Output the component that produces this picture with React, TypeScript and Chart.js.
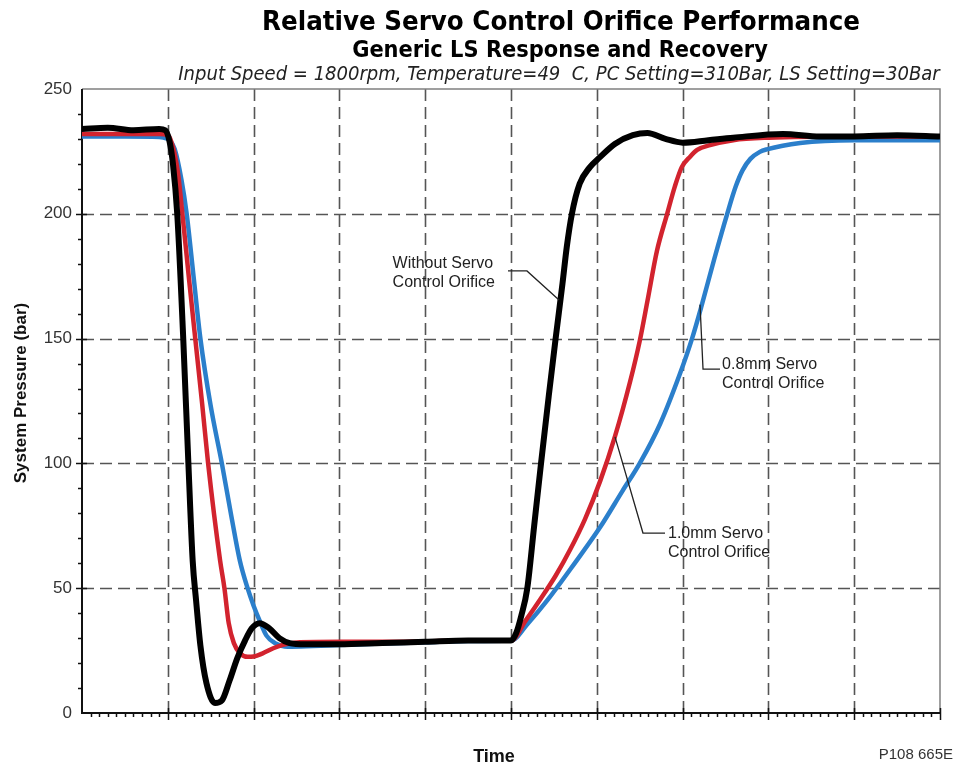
import React, { useEffect, useRef } from "react";
import { Chart, registerables } from "chart.js";

Chart.register(...registerables);

// ---------- data (time in grid divisions, pressure in bar) ----------
const blackTime = [0, 0.3, 0.6, 0.9, 0.97, 1.02, 1.06, 1.11, 1.18, 1.24, 1.29, 1.33, 1.38, 1.45, 1.55, 1.63, 1.72, 1.81, 1.9, 1.98, 2.07, 2.18, 2.3, 2.42, 2.6, 3.0, 3.5, 4.0, 4.5, 5.0, 5.06, 5.12, 5.19, 5.27, 5.35, 5.44, 5.52, 5.6, 5.65, 5.71, 5.8, 5.92, 6.04, 6.21, 6.42, 6.59, 6.8, 7.0, 7.3, 7.59, 8.17, 8.6, 9.0, 9.5, 10];
const blackPressure = [234, 234.5, 233.5, 234, 233.5, 229, 220, 200, 150, 100, 61, 45, 27, 12, 4, 5, 13, 22, 29, 34, 36, 34, 30, 28, 27.5, 27.5, 28, 28.5, 29, 29, 32, 39, 50, 75, 100, 127, 150, 172, 186.7, 200, 212, 218.7, 222.8, 228, 231.5, 232.4, 230, 228.5, 229.5, 230.5, 232, 231, 231, 231.5, 231];

const redTime = [0, 0.5, 0.9, 1.0, 1.04, 1.08, 1.12, 1.17, 1.25, 1.32, 1.4, 1.47, 1.61, 1.66, 1.71, 1.77, 1.84, 1.93, 2.0, 2.1, 2.27, 2.54, 3.0, 3.5, 4.0, 4.5, 5.0, 5.17, 5.34, 5.52, 5.69, 5.86, 6.04, 6.21, 6.39, 6.5, 6.59, 6.7, 6.82, 6.91, 6.99, 7.09, 7.17, 7.32, 7.59, 8.0, 9.0, 10];
const redPressure = [232, 232, 232, 231.5, 229, 224, 216, 200, 173, 150, 124, 100, 61, 50, 36, 28, 24, 22.5, 22.6, 23.8, 26.5, 28.3, 28.5, 28.5, 28.7, 29, 29, 37, 45.5, 55, 65.5, 77.5, 93, 110.6, 133, 149, 165, 185, 200, 211, 218.7, 223, 225.6, 227.5, 229.5, 230.5, 231, 231];

const blueTime = [0, 0.5, 0.9, 0.95, 1.02, 1.08, 1.16, 1.22, 1.3, 1.38, 1.5, 1.63, 1.74, 1.84, 1.93, 2.0, 2.07, 2.15, 2.25, 2.4, 2.7, 3.0, 3.5, 4.0, 4.5, 5.0, 5.2, 5.42, 5.7, 6.04, 6.3, 6.5, 6.74, 6.97, 7.11, 7.22, 7.37, 7.52, 7.62, 7.7, 7.79, 7.9, 7.98, 8.37, 9.0, 10];
const bluePressure = [231, 231, 230.8, 230.5, 229.5, 226, 213.5, 200, 175, 150, 123, 100, 79, 61, 50, 43, 37, 31, 28, 26.5, 26.8, 27.2, 27.8, 28.3, 28.8, 29, 36, 45, 58, 74.5, 89, 100, 116, 136, 150, 163, 182, 200, 211, 217.5, 222, 224.8, 225.8, 228.4, 229.5, 229.5];

const yTickValues = [0, 50, 100, 150, 200, 250];
const xGridValues = [1, 2, 3, 4, 5, 6, 7, 8, 9];
const yGridValues = [50, 100, 150, 200];

const titleText = "Relative Servo Control Orifice Performance";
const subtitleText = "Generic LS Response and Recovery";
const conditionsText = "Input Speed = 1800rpm, Temperature=49  C, PC Setting=310Bar, LS Setting=30Bar";
const yAxisTitle = "System Pressure (bar)";
const xAxisTitle = "Time";
const figureCode = "P108 665E";

const labelWithout = ["Without Servo", "Control Orifice"];
const labelWithoutAnchor = [3.62, 178.3];
const leaderWithout = [[4.965, 177.1], [5.186, 177.1], [5.56, 165.5]];

const label08 = ["0.8mm Servo", "Control Orifice"];
const label08Anchor = [7.46, 137.8];
const leader08 = [[7.203, 163.6], [7.238, 137.8], [7.436, 137.8]];

const label10 = ["1.0mm Servo", "Control Orifice"];
const label10Anchor = [6.83, 70.1];
const leader10 = [[6.212, 110.6], [6.538, 72.1], [6.795, 72.1]];

const annotations = [
  { lines: labelWithout, anchor: labelWithoutAnchor, leader: leaderWithout },
  { lines: label08, anchor: label08Anchor, leader: leader08 },
  { lines: label10, anchor: label10Anchor, leader: leader10 },
];

const toPoints = (t: number[], p: number[]) => t.map((x, i) => ({ x, y: p[i] }));

function fitText(ctx: CanvasRenderingContext2D, text: string, width: number, spec: string, family: string) {
  ctx.font = `${spec} 20px ${family}`;
  const w = ctx.measureText(text).width;
  const size = (20 * width) / w;
  ctx.font = `${spec} ${size}px ${family}`;
}

const decorPlugin = {
  id: "decor",
  beforeDatasetsDraw(chart: any) {
    const { ctx, chartArea: a, scales } = chart;
    const x = scales.x;
    const y = scales.y;
    ctx.save();
    ctx.strokeStyle = "#555";
    ctx.lineWidth = 1.6;
    ctx.setLineDash([12, 6]);
    for (const v of xGridValues) {
      const px = Math.round(x.getPixelForValue(v)) + 0.5;
      ctx.beginPath();
      ctx.moveTo(px, a.top);
      ctx.lineTo(px, a.bottom);
      ctx.stroke();
    }
    for (const v of yGridValues) {
      const py = Math.round(y.getPixelForValue(v)) + 0.5;
      ctx.beginPath();
      ctx.moveTo(a.left, py);
      ctx.lineTo(a.right, py);
      ctx.stroke();
    }
    ctx.setLineDash([]);
    ctx.strokeStyle = "#808080";
    ctx.lineWidth = 1.5;
    ctx.beginPath();
    ctx.moveTo(a.left, a.top);
    ctx.lineTo(a.right, a.top);
    ctx.lineTo(a.right, a.bottom);
    ctx.stroke();
    ctx.strokeStyle = "#111";
    ctx.lineWidth = 2;
    ctx.beginPath();
    ctx.moveTo(a.left, a.top);
    ctx.lineTo(a.left, a.bottom);
    ctx.lineTo(a.right, a.bottom);
    ctx.stroke();
    ctx.lineWidth = 1.5;
    for (let i = 1; i < 25; i++) {
      const v = i * 10;
      const py = Math.round(y.getPixelForValue(v)) + 0.5;
      const major = v % 50 === 0;
      ctx.beginPath();
      ctx.moveTo(a.left - (major ? 6 : 4), py);
      ctx.lineTo(a.left + (major ? 5 : 0), py);
      ctx.stroke();
    }
    for (let i = 1; i <= 100; i++) {
      const v = i / 10;
      const px = Math.round(x.getPixelForValue(v)) + 0.5;
      const major = i % 10 === 0;
      ctx.beginPath();
      ctx.moveTo(px, a.bottom - (major ? 5 : 0));
      ctx.lineTo(px, a.bottom + (major ? 7 : 4));
      ctx.stroke();
    }
    ctx.restore();
  },
  afterDraw(chart: any) {
    const { ctx, scales } = chart;
    const x = scales.x;
    const y = scales.y;
    ctx.save();
    ctx.fillStyle = "#000";
    ctx.textAlign = "center";
    ctx.textBaseline = "alphabetic";
    fitText(ctx, titleText, 598, "bold", "'DejaVu Sans Condensed', 'DejaVu Sans'");
    ctx.fillText(titleText, 561, 30);
    fitText(ctx, subtitleText, 416, "bold", "'DejaVu Sans Condensed', 'DejaVu Sans'");
    ctx.fillText(subtitleText, 560, 57);
    ctx.fillStyle = "#222";
    fitText(ctx, conditionsText, 762, "italic", "'DejaVu Sans Condensed', 'DejaVu Sans'");
    ctx.fillText(conditionsText, 559, 80);

    ctx.fillStyle = "#111";
    ctx.font = "bold 18px 'Liberation Sans', Arial, sans-serif";
    ctx.fillText(xAxisTitle, 494, 762);
    ctx.save();
    ctx.translate(26, 393);
    ctx.rotate(-Math.PI / 2);
    ctx.font = "bold 17px 'Liberation Sans', Arial, sans-serif";
    ctx.fillText(yAxisTitle, 0, 0);
    ctx.restore();

    ctx.fillStyle = "#333";
    ctx.textAlign = "right";
    ctx.font = "15px 'Liberation Sans Narrow', 'Liberation Sans', sans-serif";
    ctx.fillText(figureCode, 953, 759);

    ctx.textAlign = "left";
    ctx.fillStyle = "#222";
    ctx.font = "16px 'Liberation Sans', Arial, sans-serif";
    ctx.strokeStyle = "#222";
    ctx.lineWidth = 1.3;
    for (const ann of annotations) {
      const ax = x.getPixelForValue(ann.anchor[0]);
      const ay = y.getPixelForValue(ann.anchor[1]);
      ann.lines.forEach((line, i) => ctx.fillText(line, ax, ay + i * 19));
      ctx.beginPath();
      ann.leader.forEach((pt, i) => {
        const px = x.getPixelForValue(pt[0]);
        const py = y.getPixelForValue(pt[1]);
        if (i === 0) ctx.moveTo(px, py);
        else ctx.lineTo(px, py);
      });
      ctx.stroke();
    }
    ctx.restore();
  },
};

export default function App() {
  const canvasRef = useRef<HTMLCanvasElement | null>(null);
  useEffect(() => {
    const canvas = canvasRef.current;
    if (!canvas) return;
    const chart = new Chart(canvas, {
      type: "line",
      data: {
        datasets: [
          {
            label: "Without Servo Control Orifice",
            data: toPoints(blackTime, blackPressure),
            borderColor: "#000000",
            borderWidth: 6,
            pointRadius: 0,
            cubicInterpolationMode: "monotone",
          },
          {
            label: "1.0mm Servo Control Orifice",
            data: toPoints(redTime, redPressure),
            borderColor: "#d2232e",
            borderWidth: 4.5,
            pointRadius: 0,
            cubicInterpolationMode: "monotone",
          },
          {
            label: "0.8mm Servo Control Orifice",
            data: toPoints(blueTime, bluePressure),
            borderColor: "#2b7fcb",
            borderWidth: 4.5,
            pointRadius: 0,
            cubicInterpolationMode: "monotone",
          },
        ],
      },
      options: {
        responsive: false,
        animation: false,
        layout: { padding: { left: 0, top: 89, right: 19, bottom: 54 } },
        plugins: { legend: { display: false }, tooltip: { enabled: false }, title: { display: false } },
        scales: {
          x: { type: "linear", min: 0, max: 10, display: false },
          y: {
            type: "linear",
            min: 0,
            max: 250,
            afterBuildTicks: (s: any) => {
              s.ticks = yTickValues.map((v) => ({ value: v }));
            },
            afterFit: (s: any) => {
              s.width = 82;
            },
            ticks: {
              color: "#333",
              padding: 10,
              font: { family: "'Liberation Sans', Arial, sans-serif", size: 17 },
            },
            grid: { display: false, drawTicks: false },
            border: { display: false },
          },
        },
      },
      plugins: [decorPlugin],
    } as any);
    return () => chart.destroy();
  }, []);
  return (
    <div style={{ position: "absolute", left: 0, top: 0, width: 959, height: 767, background: "#fff" }}>
      <canvas ref={canvasRef} width={959} height={767} style={{ display: "block" }} />
    </div>
  );
}
